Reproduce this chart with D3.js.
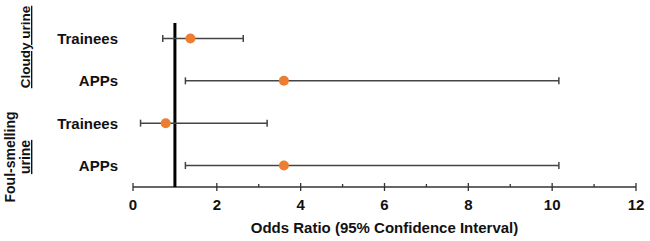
<!DOCTYPE html>
<html>
<head>
<meta charset="utf-8">
<script src="https://cdn.jsdelivr.net/npm/d3@7"></script>
<style>
  body { margin: 0; background: #fff; }
  text { font-family: "Liberation Sans", Arial, sans-serif; font-weight: bold; }
</style>
</head>
<body>
<script>
// forest plot values
var rowLabels = ['Trainees', 'APPs', 'Trainees', 'APPs'];
var rowKeys = ['c-tr', 'c-app', 'f-tr', 'f-app'];
var oddsRatio = [1.37, 3.6, 0.78, 3.6];
var ciLow = [0.71, 1.25, 0.18, 1.25];
var ciHigh = [2.63, 10.16, 3.2, 10.16];
var xTicks = [0, 2, 4, 6, 8, 10, 12];
var xMinorTicks = [1, 3, 5, 7, 9, 11];

var width = 650, height = 241;

var svg = d3.select('body')
  .append('svg')
  .attr('width', width)
  .attr('height', height);

var x = d3.scaleLinear()
  .domain([0, 12])
  .range([133, 636]);

var y = d3.scalePoint()
  .domain(rowKeys)
  .range([38.5, 165.5]);

var axisY = 187;

// x axis: major ticks cross the line, minor ticks only above
var axis = svg.append('g').attr('transform', 'translate(0,' + axisY + ')');
axis.append('line')
  .attr('x1', x(0)).attr('x2', x(12))
  .attr('stroke', '#333').attr('stroke-width', 1.5);
axis.selectAll('.major')
  .data(xTicks)
  .enter()
  .append('line')
  .attr('x1', function(d) { return x(d); })
  .attr('x2', function(d) { return x(d); })
  .attr('y1', -4).attr('y2', 4)
  .attr('stroke', '#333').attr('stroke-width', 1.3);
axis.selectAll('.minor')
  .data(xMinorTicks)
  .enter()
  .append('line')
  .attr('x1', function(d) { return x(d); })
  .attr('x2', function(d) { return x(d); })
  .attr('y1', -3).attr('y2', 0)
  .attr('stroke', '#333').attr('stroke-width', 1.3);
axis.selectAll('.lbl')
  .data(xTicks)
  .enter()
  .append('text')
  .attr('x', function(d) { return x(d); })
  .attr('y', 23)
  .attr('text-anchor', 'middle')
  .attr('font-size', 15)
  .attr('fill', '#111')
  .text(function(d) { return d; });

svg.append('text')
  .attr('x', (x(0) + x(12)) / 2)
  .attr('y', 233)
  .attr('text-anchor', 'middle')
  .attr('font-size', 15)
  .attr('fill', '#111')
  .text('Odds Ratio (95% Confidence Interval)');

// reference line at OR = 1
svg.append('line')
  .attr('x1', x(1)).attr('x2', x(1))
  .attr('y1', 23).attr('y2', axisY)
  .attr('stroke', '#000').attr('stroke-width', 3);

var rows = svg.selectAll('.row')
  .data(rowKeys)
  .enter()
  .append('g')
  .attr('transform', function(d) { return 'translate(0,' + y(d) + ')'; });

rows.append('line')
  .attr('x1', function(d, i) { return x(ciLow[i]); })
  .attr('x2', function(d, i) { return x(ciHigh[i]); })
  .attr('stroke', '#444').attr('stroke-width', 1.5);
rows.append('line')
  .attr('x1', function(d, i) { return x(ciLow[i]); })
  .attr('x2', function(d, i) { return x(ciLow[i]); })
  .attr('y1', -3.5).attr('y2', 3.5)
  .attr('stroke', '#444').attr('stroke-width', 1.5);
rows.append('line')
  .attr('x1', function(d, i) { return x(ciHigh[i]); })
  .attr('x2', function(d, i) { return x(ciHigh[i]); })
  .attr('y1', -3.5).attr('y2', 3.5)
  .attr('stroke', '#444').attr('stroke-width', 1.5);
rows.append('circle')
  .attr('cx', function(d, i) { return x(oddsRatio[i]); })
  .attr('r', 5)
  .attr('fill', '#ED7D31');

rows.append('text')
  .attr('x', 118)
  .attr('y', 5.5)
  .attr('text-anchor', 'end')
  .attr('font-size', 15)
  .attr('fill', '#111')
  .text(function(d, i) { return rowLabels[i]; });

// rotated group labels
function groupLabel(cx, cy, txt, underline, size) {
  svg.append('text')
    .attr('transform', 'translate(' + cx + ',' + cy + ') rotate(-90)')
    .attr('text-anchor', 'middle')
    .attr('font-size', size)
    .attr('fill', '#111')
    .style('text-decoration', underline ? 'underline' : 'none')
    .text(txt);
}
groupLabel(30, 47, 'Cloudy urine', true, 13.5);
groupLabel(15, 157, 'Foul-smelling', false, 14);
groupLabel(30, 157, 'urine', true, 14);
</script>
</body>
</html>
